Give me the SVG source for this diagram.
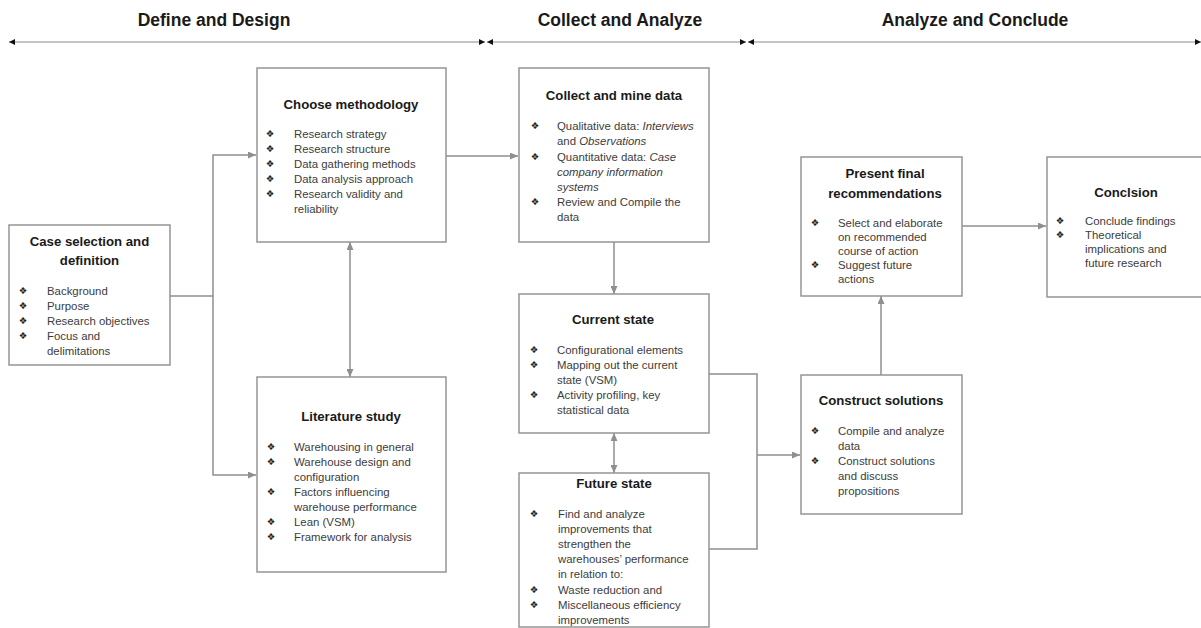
<svg xmlns="http://www.w3.org/2000/svg" width="1201" height="628" viewBox="0 0 1201 628">
<style>
.box{fill:#fff;stroke:#959595;stroke-width:1.5}
.c{fill:none;stroke:#8f8f8f;stroke-width:1.5}
.hl{fill:none;stroke:#8a8a8a;stroke-width:1.2}
.h{font-family:"Liberation Sans",Arial,sans-serif;font-weight:bold;font-size:17.5px;fill:#1a1a1a;text-anchor:middle}
.t{font-family:"Liberation Sans",Arial,sans-serif;font-weight:bold;font-size:13.2px;fill:#1a1a1a;text-anchor:middle}
.b{font-family:"Liberation Sans",Arial,sans-serif;font-size:11.4px;fill:#3c3c3c}
.d{font-family:"DejaVu Sans",sans-serif;font-size:9.5px;fill:#222;text-anchor:middle}
.i{font-style:italic}
</style>
<defs>
<marker id="ga" markerUnits="userSpaceOnUse" markerWidth="8" markerHeight="7" refX="8" refY="3.5" orient="auto-start-reverse"><path d="M0,0 L8,3.5 L0,7 z" fill="#8f8f8f"/></marker>
<marker id="ka" markerUnits="userSpaceOnUse" markerWidth="6" markerHeight="6" refX="6" refY="3" orient="auto-start-reverse"><path d="M0,0 L6,3 L0,6 z" fill="#111"/></marker>
</defs>
<rect width="1201" height="628" fill="#fff"/>

<g id="phases">
<text class="h" x="214" y="26">Define and Design</text>
<text class="h" x="620" y="26">Collect and Analyze</text>
<text class="h" x="975" y="26">Analyze and Conclude</text>
<line class="hl" x1="9" y1="42" x2="485" y2="42" marker-start="url(#ka)" marker-end="url(#ka)"/>
<line class="hl" x1="487" y1="42" x2="746" y2="42" marker-start="url(#ka)" marker-end="url(#ka)"/>
<line class="hl" x1="748" y1="42" x2="1201" y2="42" marker-start="url(#ka)" marker-end="url(#ka)"/>
</g>

<g id="connectors">
<polyline class="c" points="170,296 213,296"/>
<polyline class="c" points="256,155 213,155 213,475 256,475" marker-start="url(#ga)" marker-end="url(#ga)"/>
<line class="c" x1="350" y1="242" x2="350" y2="377" marker-start="url(#ga)" marker-end="url(#ga)"/>
<line class="c" x1="446" y1="156" x2="518" y2="156" marker-end="url(#ga)"/>
<line class="c" x1="614" y1="242" x2="614" y2="294" marker-end="url(#ga)"/>
<line class="c" x1="614" y1="433" x2="614" y2="473" marker-start="url(#ga)" marker-end="url(#ga)"/>
<polyline class="c" points="709,374 757,374 757,549 709,549"/>
<line class="c" x1="757" y1="455" x2="800" y2="455" marker-end="url(#ga)"/>
<line class="c" x1="881" y1="375" x2="881" y2="296" marker-end="url(#ga)"/>
<line class="c" x1="962" y1="226" x2="1046" y2="226" marker-end="url(#ga)"/>
</g>

<g id="case">
<rect class="box" x="9" y="225" width="161" height="140"/>
<text class="t" x="89.5" y="246">Case selection and</text>
<text class="t" x="89.5" y="265">definition</text>
<text class="d" x="23" y="294">❖</text><text class="b" x="47" y="295">Background</text>
<text class="d" x="23" y="309">❖</text><text class="b" x="47" y="310">Purpose</text>
<text class="d" x="23" y="324">❖</text><text class="b" x="47" y="325">Research objectives</text>
<text class="d" x="23" y="339">❖</text><text class="b" x="47" y="340">Focus and</text>
<text class="b" x="47" y="355">delimitations</text>
</g>

<g id="methodology">
<rect class="box" x="257" y="68" width="189" height="174"/>
<text class="t" x="351" y="109">Choose methodology</text>
<text class="d" x="270" y="137">❖</text><text class="b" x="294" y="138">Research strategy</text>
<text class="d" x="270" y="152">❖</text><text class="b" x="294" y="153">Research structure</text>
<text class="d" x="270" y="167">❖</text><text class="b" x="294" y="168">Data gathering methods</text>
<text class="d" x="270" y="182">❖</text><text class="b" x="294" y="183">Data analysis approach</text>
<text class="d" x="270" y="197">❖</text><text class="b" x="294" y="198">Research validity and</text>
<text class="b" x="294" y="213">reliability</text>
</g>

<g id="literature">
<rect class="box" x="257" y="377" width="189" height="195"/>
<text class="t" x="351" y="421">Literature study</text>
<text class="d" x="271" y="450">❖</text><text class="b" x="294" y="451">Warehousing in general</text>
<text class="d" x="271" y="465">❖</text><text class="b" x="294" y="466">Warehouse design and</text>
<text class="b" x="294" y="481">configuration</text>
<text class="d" x="271" y="495">❖</text><text class="b" x="294" y="496">Factors influencing</text>
<text class="b" x="294" y="511">warehouse performance</text>
<text class="d" x="271" y="525">❖</text><text class="b" x="294" y="526">Lean (VSM)</text>
<text class="d" x="271" y="540">❖</text><text class="b" x="294" y="541">Framework for analysis</text>
</g>

<g id="collect">
<rect class="box" x="519" y="68" width="190" height="174"/>
<text class="t" x="614" y="100">Collect and mine data</text>
<text class="d" x="535" y="129">❖</text><text class="b" x="557" y="130">Qualitative data: <tspan class="i">Interviews</tspan></text>
<text class="b" x="557" y="145">and <tspan class="i">Observations</tspan></text>
<text class="d" x="535" y="160">❖</text><text class="b" x="557" y="161">Quantitative data: <tspan class="i">Case</tspan></text>
<text class="b i" x="557" y="176">company information</text>
<text class="b i" x="557" y="191">systems</text>
<text class="d" x="535" y="205">❖</text><text class="b" x="557" y="206">Review and Compile the</text>
<text class="b" x="557" y="221">data</text>
</g>

<g id="current">
<rect class="box" x="519" y="294" width="190" height="139"/>
<text class="t" x="613" y="324">Current state</text>
<text class="d" x="534" y="353">❖</text><text class="b" x="557" y="354">Configurational elements</text>
<text class="d" x="534" y="368">❖</text><text class="b" x="557" y="369">Mapping out the current</text>
<text class="b" x="557" y="384">state (VSM)</text>
<text class="d" x="534" y="398">❖</text><text class="b" x="557" y="399">Activity profiling, key</text>
<text class="b" x="557" y="414">statistical data</text>
</g>

<g id="future">
<rect class="box" x="519" y="473" width="190" height="154"/>
<text class="t" x="614" y="488">Future state</text>
<text class="d" x="534" y="517">❖</text><text class="b" x="558" y="518">Find and analyze</text>
<text class="b" x="558" y="533">improvements that</text>
<text class="b" x="558" y="548">strengthen the</text>
<text class="b" x="558" y="563">warehouses’ performance</text>
<text class="b" x="558" y="578">in relation to:</text>
<text class="d" x="534" y="593">❖</text><text class="b" x="558" y="594">Waste reduction and</text>
<text class="d" x="534" y="608">❖</text><text class="b" x="558" y="609">Miscellaneous efficiency</text>
<text class="b" x="558" y="624">improvements</text>
</g>

<g id="present">
<rect class="box" x="801" y="157" width="161" height="139"/>
<text class="t" x="885" y="178">Present final</text>
<text class="t" x="885" y="198">recommendations</text>
<text class="d" x="815" y="226">❖</text><text class="b" x="838" y="227">Select and elaborate</text>
<text class="b" x="838" y="241">on recommended</text>
<text class="b" x="838" y="255">course of action</text>
<text class="d" x="815" y="268">❖</text><text class="b" x="838" y="269">Suggest future</text>
<text class="b" x="838" y="283">actions</text>
</g>

<g id="construct">
<rect class="box" x="801" y="375" width="161" height="139"/>
<text class="t" x="881" y="405">Construct solutions</text>
<text class="d" x="815" y="434">❖</text><text class="b" x="838" y="435">Compile and analyze</text>
<text class="b" x="838" y="450">data</text>
<text class="d" x="815" y="464">❖</text><text class="b" x="838" y="465">Construct solutions</text>
<text class="b" x="838" y="480">and discuss</text>
<text class="b" x="838" y="495">propositions</text>
</g>

<g id="conclusion">
<rect class="box" x="1047" y="157" width="160" height="140"/>
<text class="t" x="1126" y="197">Conclsion</text>
<text class="d" x="1060" y="224">❖</text><text class="b" x="1085" y="225">Conclude findings</text>
<text class="d" x="1060" y="238">❖</text><text class="b" x="1085" y="239">Theoretical</text>
<text class="b" x="1085" y="253">implications and</text>
<text class="b" x="1085" y="267">future research</text>
</g>
</svg>
